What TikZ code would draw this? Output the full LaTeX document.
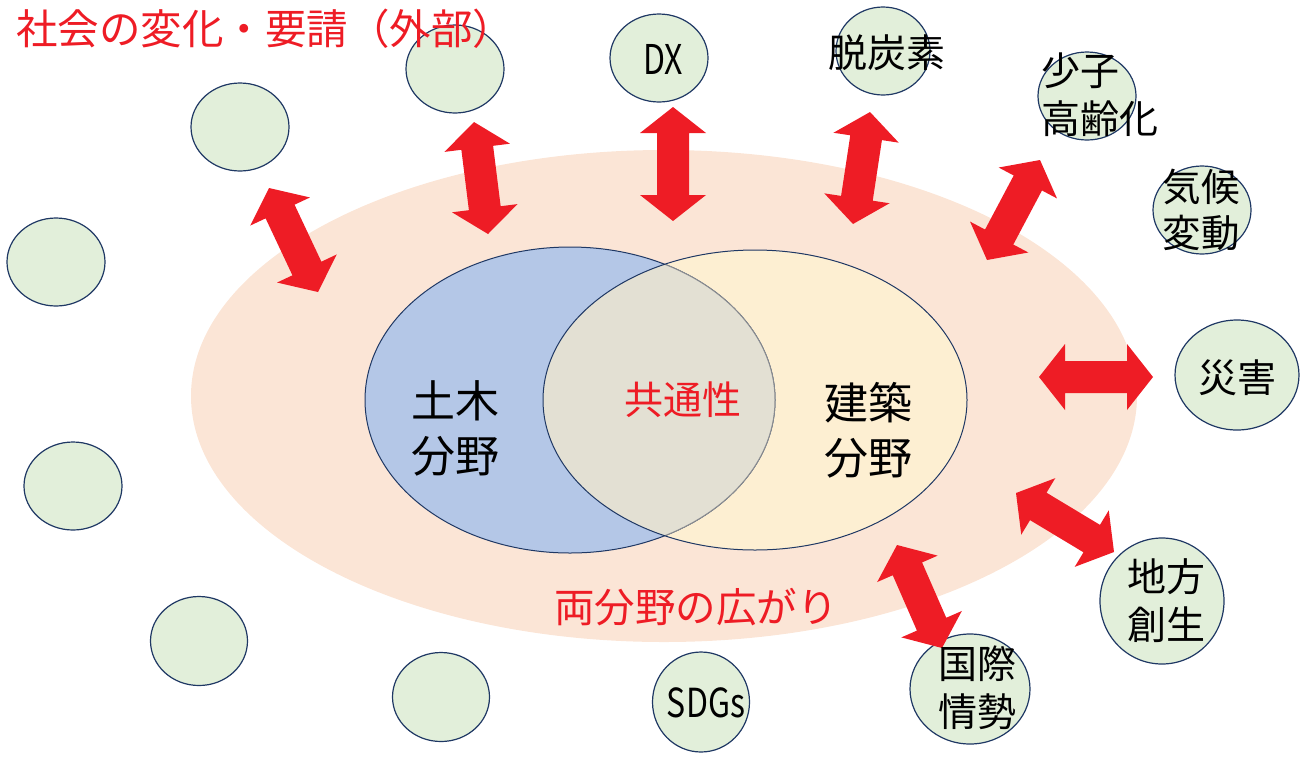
\documentclass[tikz,border=0pt]{standalone}
\usepackage{fontspec}
\setmainfont{Noto Sans CJK JP}
\usetikzlibrary{calc,shapes.geometric}
\definecolor{redc}{HTML}{EE1C25}
\definecolor{peach}{HTML}{FBE5D6}
\definecolor{bluec}{HTML}{B4C7E7}
\definecolor{yellowc}{HTML}{FDEFD2}
\definecolor{overlapc}{HTML}{E3E0D3}
\definecolor{greenc}{HTML}{E2EFDA}
\definecolor{navy}{HTML}{1F3864}
\definecolor{greyline}{HTML}{8A8C90}
\tikzset{
  bub/.style={ellipse, draw=navy, line width=1.2pt, fill=greenc, inner sep=0pt},
  lbl/.style={font=\fontsize{39}{48}\selectfont, align=center, inner sep=0pt},
  big/.style={font=\fontsize{44}{55}\selectfont, align=center, inner sep=0pt},
  redtxt/.style={text=redc, inner sep=0pt},
}
\newcommand{\dblarrow}[2]{%
  \coordinate (ha) at ($(#1)!26pt!(#2)$);
  \coordinate (hb) at ($(#2)!26pt!(#1)$);
  \fill[redc] (#1) -- ($(ha)!33pt!90:(#2)$) -- ($(ha)!16pt!90:(#2)$)
    -- ($(hb)!16pt!-90:(#1)$) -- ($(hb)!33pt!-90:(#1)$) -- (#2)
    -- ($(hb)!33pt!90:(#1)$) -- ($(hb)!16pt!90:(#1)$)
    -- ($(ha)!16pt!-90:(#2)$) -- ($(ha)!33pt!-90:(#2)$) -- cycle;}
\begin{document}
\begin{tikzpicture}[x=1pt,y=-1pt]
\useasboundingbox (0,0) rectangle (1300,756);
% outer field
\fill[peach] (664,396) ellipse [x radius=473pt, y radius=246pt];
% Venn
\fill[yellowc] (755,400) ellipse [x radius=212pt, y radius=150pt];
\filldraw[fill=bluec, draw=navy, line width=1pt] (570,400) ellipse [x radius=205pt, y radius=153pt];
\begin{scope}
  \clip (755,400) ellipse [x radius=212pt, y radius=150pt];
  \fill[overlapc] (570,400) ellipse [x radius=205pt, y radius=153pt];
  \draw[greyline, line width=1pt] (570,400) ellipse [x radius=205pt, y radius=153pt];
\end{scope}
\draw[navy, line width=1pt] (755,400) ellipse [x radius=212pt, y radius=150pt];
\node[big] (doboku) at (455,428) {土木\\分野};
\node[big] (kenchiku) at (868,430) {建築\\分野};
\node[redtxt, font=\fontsize{39}{45}\selectfont] (kyotsu) at (683,400) {共通性};
\node[redtxt, font=\fontsize{40.5}{45}\selectfont] (hiro) at (696,607) {両分野の広がり};
% bubbles
\node[bub, minimum width=98pt, minimum height=88pt] (c1) at (240,127) {};
\node[bub, minimum width=98pt, minimum height=88pt] (c2) at (455,69) {};
\node[bub, minimum width=98pt, minimum height=88pt] (c3) at (56,262) {};
\node[bub, minimum width=98pt, minimum height=88pt] (c4) at (73,486) {};
\node[bub, minimum width=97pt, minimum height=89pt] (c5) at (199,641) {};
\node[bub, minimum width=97pt, minimum height=89pt] (c6) at (441,697) {};
\node[bub, minimum width=97pt, minimum height=100pt] (c7) at (701,702) {};
\node[bub, minimum width=98pt, minimum height=88pt] (c8) at (659,58) {};
\node[bub, minimum width=94pt, minimum height=88pt] (c9) at (883,51) {};
\node[bub, minimum width=98pt, minimum height=88pt] (c10) at (1087,96) {};
\node[bub, minimum width=98pt, minimum height=88pt] (c11) at (1202,210) {};
\node[bub, minimum width=124pt, minimum height=110pt] (c12) at (1237,375) {};
\node[bub, minimum width=124pt, minimum height=126pt] (c13) at (1162,601) {};
\node[bub, minimum width=120pt, minimum height=110pt] (c14) at (970,689) {};
\node[redtxt, anchor=west, font=\fontsize{41.5}{46}\selectfont] (title) at (16,29) {社会の変化・要請（外部）};
% arrows
\coordinate (a1s) at (269,188); \coordinate (a1e) at (318,292);
\coordinate (a2s) at (474,122); \coordinate (a2e) at (488,234);
\coordinate (a3s) at (673,107); \coordinate (a3e) at (673,221);
\coordinate (a4s) at (870,112); \coordinate (a4e) at (853,224);
\coordinate (a5s) at (1040,160); \coordinate (a5e) at (987,260);
\coordinate (a6s) at (1039,377); \coordinate (a6e) at (1153,377);
\coordinate (a7s) at (1016,493); \coordinate (a7e) at (1114,552);
\coordinate (a8s) at (897,545); \coordinate (a8e) at (942,648);
\dblarrow{a1s}{a1e}
\dblarrow{a2s}{a2e}
\dblarrow{a3s}{a3e}
\dblarrow{a4s}{a4e}
\dblarrow{a5s}{a5e}
\dblarrow{a6s}{a6e}
\dblarrow{a7s}{a7e}
\dblarrow{a8s}{a8e}
% labels
\node[lbl, font=\fontsize{41}{48}\selectfont] (tDX) at (663,59) {\scalebox{0.78}[1]{DX}};
\node[lbl, font=\fontsize{40}{48}\selectfont] (tSDG) at (706,703) {\scalebox{0.8}[1]{SDGs}};
\node[lbl] (t9) at (887,53) {脱炭素};
\node[lbl, align=left, anchor=west] (t10) at (1041,95) {少子\\高齢化};
\node[lbl, font=\fontsize{38.5}{46}\selectfont] (t11) at (1201,210) {気候\\変動};
\node[lbl] (t12) at (1237,378) {災害};
\node[lbl] (t13) at (1166,601) {地方\\創生};
\node[lbl] (t14) at (977,688) {国際\\情勢};
\end{tikzpicture}
\end{document}
